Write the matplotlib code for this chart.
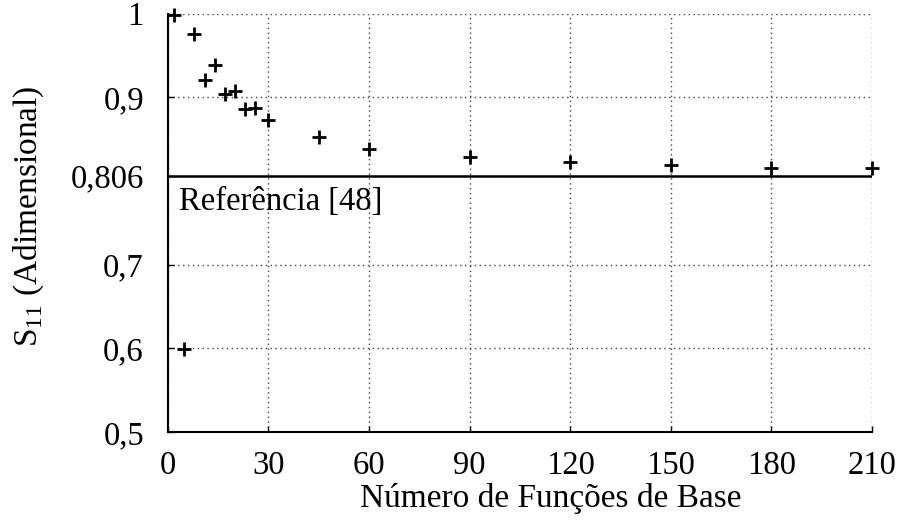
import matplotlib
matplotlib.use('Agg')
import matplotlib.pyplot as plt

# numero de funcoes de base x S11
n_funcoes = [2, 5, 8, 11, 14, 17, 20, 23, 26, 30, 45, 60, 90, 120, 150, 180, 210]
s11 = [0.998, 0.599, 0.976, 0.920, 0.939, 0.904, 0.908, 0.886, 0.887, 0.873,
       0.853, 0.838, 0.829, 0.823, 0.819, 0.816, 0.815]
s11_referencia = 0.806
x_ticks = [0, 30, 60, 90, 120, 150, 180, 210]
y_ticks = [0.5, 0.6, 0.7, 0.806, 0.9, 1.0]
y_tick_labels = ['0,5', '0,6', '0,7', '0,806', '0,9', '1']

plt.rcParams['font.family'] = ['Liberation Serif', 'DejaVu Serif']
plt.rcParams['mathtext.fontset'] = 'custom'
plt.rcParams['mathtext.rm'] = 'Liberation Serif'

fig = plt.figure(figsize=(9.06, 5.2), dpi=100)
ax = fig.add_axes([0.185, 0.169, 0.7775, 0.805])

ax.plot(n_funcoes, s11, linestyle='none', marker='+', color='black',
        markersize=10, markeredgewidth=2, clip_on=False, zorder=3)
ax.plot([x_ticks[0], x_ticks[-1]], [s11_referencia, s11_referencia], color='black', lw=1.8)
ax.text(3.5, 0.793, 'Referência [48]', fontsize=23.5, va='top', ha='left')

ax.set_xlim(x_ticks[0], x_ticks[-1])
ax.set_ylim(0.5, 1.0)
ax.set_xticks(x_ticks)
ax.set_yticks(y_ticks)
ax.set_yticklabels(y_tick_labels)
ax.tick_params(direction='in', length=4, width=1, labelsize=23.5)
ax.tick_params(axis='x', pad=13)
ax.tick_params(axis='y', pad=17)
ax.grid(True, linestyle=(0, (1, 2.5)), color='#444444', lw=1)

ax.spines['top'].set_visible(False)
ax.spines['right'].set_visible(False)
for s in ('left', 'bottom'):
    ax.spines[s].set_linewidth(1.5)

ax.set_xlabel('Número de Funções de Base', fontsize=24, labelpad=2, x=0.544)
ax.set_ylabel('S$_{\\mathrm{11}}$ (Adimensional)', fontsize=24, labelpad=18, y=0.515)

fig.savefig('out.png', dpi=100)
